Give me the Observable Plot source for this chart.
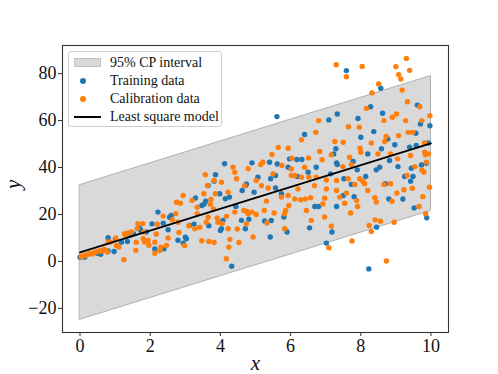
<!DOCTYPE html>
<html><head><meta charset="utf-8">
<script src="https://cdn.jsdelivr.net/npm/d3@7"></script>
<script src="https://cdn.jsdelivr.net/npm/@observablehq/plot@0.6"></script>
<style>
body{margin:0;background:#fff;}
#wrap{position:relative;width:498px;height:374px;font-family:"Liberation Serif","Times New Roman",Times,serif;}
#chart svg, #chart svg text{font-family:"Liberation Serif","Times New Roman",Times,serif !important;}
#legend{position:absolute;left:68px;top:51px;width:152px;height:74px;border:1px solid #cfcfcf;border-radius:3px;background:rgba(255,255,255,0.85);font-size:14px;color:#111;}
.item{position:absolute;left:0;height:18px;width:150px;}
.sw{position:absolute;left:5px;}
.lab{position:absolute;left:41px;top:0;line-height:18px;white-space:nowrap;}
</style>
</head><body>
<div id="wrap"><div id="chart"></div><div id="legend"></div></div>
<script>
const trainX=[0,0.13,0.5,0.59,0.8,0.8,0.97,1.01,1.18,1.35,1.42,1.52,1.7,1.73,1.89,2.05,2.13,2.22,2.37,2.39,2.51,2.55,2.6,2.79,2.94,3.0,3.03,3.12,3.25,3.29,3.47,3.53,3.58,3.65,3.67,3.82,3.86,3.98,4.0,4.03,4.07,4.12,4.14,4.26,4.32,4.44,4.6,4.62,4.72,4.71,4.74,4.81,4.9,4.96,5.07,5.26,5.4,5.42,5.43,5.45,5.57,5.57,5.61,5.62,5.74,5.81,5.9,5.93,5.97,6.18,6.19,6.32,6.4,6.5,6.54,6.69,6.73,6.8,7.02,7.09,7.14,7.18,7.23,7.29,7.31,7.31,7.33,7.33,7.5,7.52,7.59,7.73,7.78,7.81,7.9,7.92,8.0,8.14,8.2,8.23,8.28,8.37,8.44,8.45,8.54,8.57,8.59,8.62,8.7,8.77,8.8,8.82,8.97,9.06,9.2,9.25,9.39,9.42,9.44,9.49,9.52,9.57,9.58,9.61,9.7,9.73,9.87,9.88,9.92,9.97];
const trainY=[1.8,1.8,3.4,3.0,4.4,10.1,4.2,9.6,8.2,8.5,11.1,11.8,14.0,13.2,12.5,16.0,5.3,21.0,16.3,5.4,13.5,18.8,19.6,9.0,7.8,10.3,9.7,15.3,15.9,27.0,23.8,24.3,25.6,32.3,15.2,34.2,36.9,28.8,13.2,13.9,17.5,41.6,26.7,27.4,-2.1,23.4,17.5,30.2,32.3,13.9,33.0,18.0,42.0,29.5,35.9,17.2,42.3,10.4,35.2,17.4,36.6,31.3,61.7,41.5,28.8,18.9,12.5,40.1,43.7,43.4,36.2,43.4,54.1,38.0,14.3,23.4,40.1,23.4,7.8,60.3,37.3,12.5,45.8,48.0,42.0,23.4,62.8,41.3,28.1,35.2,81.3,32.8,42.6,27.6,39.0,60.9,52.9,36.2,45.8,-3.2,65.9,55.3,39.0,14.6,40.1,73.8,48.0,63.1,33.1,52.2,26.6,43.0,49.7,40.4,26.6,36.2,48.7,34.2,39.7,36.2,22.8,54.6,49.4,66.6,58.6,41.1,41.8,18.6,50.5,57.8];
const calX=[0.03,0.08,0.15,0.2,0.25,0.3,0.35,0.42,0.47,0.55,0.62,0.68,0.73,0.78,0.8,0.87,1.02,1.04,1.11,1.25,1.27,1.3,1.37,1.46,1.59,1.6,1.63,1.65,1.79,1.8,1.82,1.84,1.94,1.96,2.13,2.13,2.17,2.2,2.27,2.3,2.37,2.46,2.51,2.63,2.73,2.75,2.79,2.82,2.86,2.94,2.98,3.1,3.19,3.27,3.34,3.34,3.41,3.47,3.53,3.57,3.6,3.63,3.65,3.67,3.71,3.73,3.8,3.82,3.82,3.86,3.91,3.93,4.03,4.05,4.17,4.17,4.22,4.22,4.24,4.27,4.36,4.41,4.41,4.46,4.48,4.53,4.67,4.69,4.74,4.76,4.79,4.79,4.9,4.93,5.02,5.02,5.15,5.17,5.21,5.25,5.31,5.33,5.36,5.47,5.5,5.53,5.65,5.75,5.74,5.83,5.83,5.86,5.93,5.93,5.95,6.02,6.02,6.04,6.12,6.12,6.21,6.29,6.31,6.31,6.4,6.42,6.45,6.51,6.52,6.57,6.59,6.68,6.72,6.73,6.8,6.83,6.9,6.92,6.97,6.97,7.02,7.02,7.09,7.16,7.16,7.26,7.3,7.31,7.31,7.4,7.49,7.5,7.54,7.59,7.59,7.64,7.65,7.68,7.71,7.73,7.75,7.83,7.88,7.91,7.96,7.97,7.98,8.0,8.04,8.06,8.11,8.16,8.2,8.24,8.3,8.3,8.32,8.4,8.41,8.44,8.49,8.51,8.56,8.66,8.66,8.68,8.72,8.73,8.85,8.85,8.89,8.9,8.95,9.0,9.02,9.03,9.05,9.08,9.08,9.14,9.18,9.23,9.28,9.3,9.32,9.33,9.35,9.39,9.42,9.47,9.48,9.54,9.66,9.68,9.74,9.74,9.77,9.8,9.82,9.82,9.84,9.85,9.87,9.93,9.96,9.97];
const calY=[2.0,2.3,2.6,2.9,3.1,3.4,3.2,3.9,4.0,4.6,4.3,5.2,4.8,4.0,8.3,8.3,10,6.8,6.1,0.7,11.8,11.1,12.1,12.5,4.7,8.2,14.0,16.1,16.1,9.7,12.5,8.3,8.9,6.9,3.5,8.2,11.7,15.8,4.6,6.1,19.3,6.8,10.0,17.7,20.3,25.2,16.7,12.3,24.8,28.1,6.8,15.2,26.0,13.9,20.3,23.1,14.6,8.8,28.8,36.9,16.7,32.3,18.8,8.5,24.3,26.4,22.4,34.5,8.1,28.8,18.5,16.7,33.7,16.2,19.2,1.1,29.5,13.9,6.1,9.4,40.1,38.0,21.0,35.2,13.8,8.1,21.7,32.3,16.0,21.3,39.5,20.3,21.0,10.4,34.5,20.0,41.3,32.3,42.3,21.7,25.7,16.4,31.3,45.6,37.3,20.6,48.6,40.9,27.4,20.3,13.9,21.7,48.2,28.1,23.8,39.4,36.6,44.0,36.6,26.6,30.9,26.3,51.8,35.9,40.1,26.6,21.7,44.1,35.9,27.1,17.5,32.3,55.0,35.9,60.0,46.8,43.3,24.5,26.9,18.9,34.7,30.9,5.8,45.4,15.0,51.1,83.8,34.5,30.2,27.4,40.4,50.8,24.8,78.7,29.1,35.2,57.4,44.4,20.6,41.3,8.7,32.8,25.9,23.4,57.2,35.2,48.2,46.5,83.1,34.2,33.1,65.2,30.2,15.3,50.5,12.7,71.8,27.1,17.7,25.3,45.8,75.6,17.1,32.8,60.0,51.1,53.2,0.2,45.8,33.1,25.6,61.4,16.7,83.0,62.8,29.1,43.7,79.6,53.6,77.7,73.0,30.5,60.0,86.5,36.6,68.0,55.0,81.4,45.1,31.2,55.0,40.4,23.4,65.9,60.0,39.0,27.6,38.0,50.5,46.5,45.4,20.3,42.3,45.8,31.6,62.1];
const bandX=[0,10];
const bandLow=[-24.9,21.5];
const bandHigh=[32.5,79.0];
const fitX=[0,10];
const fitY=[3.8,50.3];
const xTicks=[0,2,4,6,8,10];
const yTicks=[-20,0,20,40,60,80];
const legendLabels=["95% CP interval","Training data","Calibration data","Least square model"];
const colTrain="#1f77b4", colCal="#ff7f0e";

const train=trainX.map((x,i)=>({x,y:trainY[i]}));
const cal=calX.map((x,i)=>({x,y:calY[i]}));
const band=bandX.map((x,i)=>({x,lo:bandLow[i],hi:bandHigh[i]}));
const fit=fitX.map((x,i)=>({x,y:fitY[i]}));
const fmt=d=>d<0?"\u2212"+Math.abs(d):String(d);
const serif='"Liberation Serif","Times New Roman",Times,serif';

const chart=Plot.plot({
  width:498,height:374,
  marginLeft:62,marginRight:50,marginTop:45,marginBottom:42,
  style:{fontFamily:serif,background:"#fff",color:"#111"},
  x:{domain:[-0.5,10.5]},
  y:{domain:[-30.3,92]},
  marks:[
    Plot.areaY(band,{x:"x",y1:"lo",y2:"hi",fill:"#d9d9d9",stroke:"#b0b0b0",strokeWidth:1}),
    Plot.dot(train,{x:"x",y:"y",r:2.7,fill:colTrain,stroke:"none"}),
    Plot.dot(cal,{x:"x",y:"y",r:2.7,fill:colCal,stroke:"none"}),
    Plot.line(fit,{x:"x",y:"y",stroke:"#000",strokeWidth:1.8}),
    Plot.frame({stroke:"#333",strokeWidth:1.1}),
    Plot.axisX({ticks:xTicks,tickSize:4,tickPadding:3,tickFormat:fmt,fontSize:18,label:null,stroke:"#333"}),
    Plot.axisY({ticks:yTicks,tickSize:4,tickPadding:2,tickFormat:fmt,fontSize:18,label:null,stroke:"#333"}),
    Plot.text(["x"],{frameAnchor:"bottom",dy:37,text:d=>d,fontSize:21,fontStyle:"italic",fill:"#111"}),
    Plot.text(["y"],{frameAnchor:"left",dx:-49,text:d=>d,rotate:-90,fontSize:21,fontStyle:"italic",fill:"#111"})
  ]
});
document.getElementById("chart").appendChild(chart);

const lg=document.getElementById("legend");
legendLabels.forEach((lab,i)=>{
  const it=document.createElement("div");
  it.className="item";
  it.style.top=(2+i*18)+"px";
  let sw;
  if(i===0){sw=`<div class="sw" style="top:4px;width:27px;height:9px;background:#d9d9d9;border:1px solid #c4c4c4;box-sizing:border-box;"></div>`;}
  else if(i===1||i===2){sw=`<div class="sw" style="left:11px;top:6px;width:6px;height:6px;border-radius:50%;background:${i===1?colTrain:colCal};"></div>`;}
  else {sw=`<div class="sw" style="top:8px;width:27px;height:2px;background:#000;"></div>`;}
  it.innerHTML=sw+`<div class="lab">${lab}</div>`;
  lg.appendChild(it);
});
</script>
</body></html>
